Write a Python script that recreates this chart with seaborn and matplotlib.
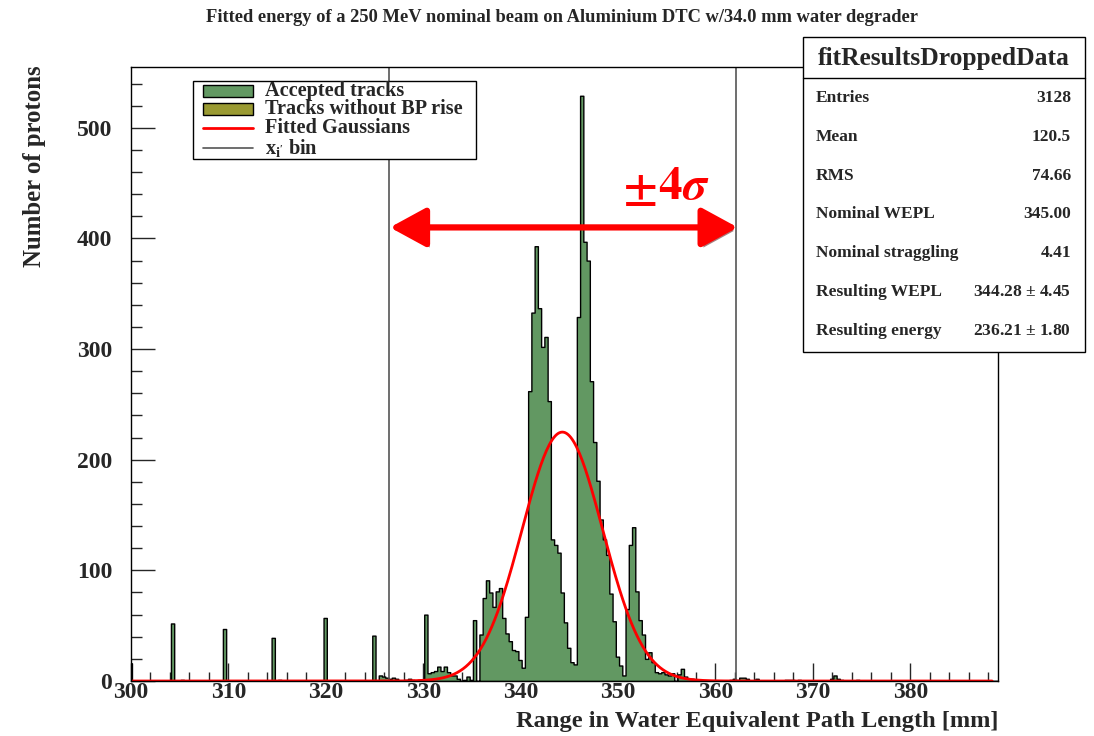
import numpy as np
import pandas as pd
import matplotlib
matplotlib.use("Agg")
import matplotlib.pyplot as plt
import matplotlib.patheffects as pe
from matplotlib.patches import Rectangle
from matplotlib.lines import Line2D
from matplotlib.ticker import MultipleLocator
import seaborn as sns

# ---------------- data ----------------
bin_width = 1 / 3          # mm
first_edge = 300.1 - 1 / 3 # lower edge of the first bin
n_bins = 269

# isolated layer peaks (bin centres in mm, counts)
layer_centres = [299.93, 304.27, 305.27, 309.60, 314.60, 315.27, 319.93, 324.93]
layer_counts = [16, 52, 1, 47, 39, 1, 57, 41]

# contiguous block of bins starting at 325.1 mm
core_first_edge = 325.1
core_counts = [
    0, 5, 4, 3, 2, 3, 2, 0, 0, 1, 2, 1, 0, 1, 1,            # 325.1 - 330.1
    60, 7, 8, 9, 13, 9, 13, 8, 5, 5, 2, 0, 1, 4, 1,        # 330.1 - 335.1
    55, 0, 42, 75, 91, 80, 67, 81, 84, 57, 43, 36, 28, 27, 19,  # 335.1 - 340.1
    12, 58, 262, 333, 393, 337, 302, 311, 253, 128, 123, 116, 80, 53, 30,  # 340.1 - 345.1
    17, 15, 329, 529, 397, 380, 271, 216, 181, 146, 128, 114, 79, 54, 22,  # 345.1 - 350.1
    14, 5, 65, 123, 139, 81, 55, 42, 20, 26, 17, 8, 7, 8, 6,  # 350.1 - 355.1
    5, 7, 0, 6, 11, 4, 2, 2, 0, 1,                          # 355.1 - 358.4
]

# sparse tail above the main distribution
tail_centres = [361.60, 361.93, 362.27, 362.60, 362.93, 363.27, 364.27,
                367.27, 367.60, 367.93, 368.60, 371.93, 372.27, 372.60,
                372.93, 374.60]
tail_counts = [1, 2, 1, 3, 3, 2, 2, 1, 1, 1, 1, 2, 5, 2, 1, 1]

# fit results
fit_amplitude = 225.0
fit_mean = 344.28
fit_sigma = 4.15
result_sigma = 4.45
x_range = (300.0, 389.0)
y_range = (0.0, 555.0)

legend_labels = ["Accepted tracks", "Tracks without BP rise",
                 "Fitted Gaussians", r"x$_{\mathbf{i'}}$ bin"]

stats_title = "fitResultsDroppedData"
stats_names = ["Entries", "Mean", "RMS", "Nominal WEPL", "Nominal straggling",
               "Resulting WEPL", "Resulting energy"]
stats_values = ["3128", "120.5", "74.66", "345.00", "4.41",
                "344.28 $\\pm$ 4.45", "236.21 $\\pm$ 1.80"]

title = ("Fitted energy of a 250 MeV nominal beam on Aluminium DTC "
         "w/34.0 mm water degrader")
x_title = "Range in Water Equivalent Path Length [mm]"
y_title = "Number of protons"

# ---------------- styling ----------------
sns.set_style("ticks")
plt.rcParams["font.family"] = ["Liberation Serif", "DejaVu Serif"]
plt.rcParams["font.weight"] = "bold"
plt.rcParams["mathtext.fontset"] = "custom"
plt.rcParams["mathtext.rm"] = "Liberation Serif:bold"
plt.rcParams["mathtext.bf"] = "Liberation Serif:bold"
plt.rcParams["mathtext.it"] = "Liberation Serif:bold:italic"
plt.rcParams["axes.linewidth"] = 1.0

GREEN = "#629862"
OLIVE = "#9a9a32"
RED = "#ff0000"
LINEGREY = "#555555"

W, H = 1094, 736
fig = plt.figure(figsize=(W / 100, H / 100), dpi=100)


def fx(px):
    return px / W


def fy(py):
    return 1 - py / H


ax = fig.add_axes([fx(131), fy(681), fx(998) - fx(131), fy(67) - fy(681)])

# ---------------- histogram ----------------
core_centres = [core_first_edge + bin_width * (i + 0.5) for i in range(len(core_counts))]
df = pd.DataFrame({
    "wepl": layer_centres + core_centres + tail_centres,
    "count": layer_counts + core_counts + tail_counts,
})
edges = list(first_edge + bin_width * np.arange(n_bins + 1))

sns.histplot(data=df, x="wepl", weights="count", bins=edges, element="step",
             fill=True, color=GREEN, edgecolor="black", linewidth=1.0,
             alpha=1.0, ax=ax, zorder=2)

# fitted gaussian
xs = np.linspace(x_range[0], 388.4, 600)
ys = fit_amplitude * np.exp(-0.5 * ((xs - fit_mean) / fit_sigma) ** 2)
sns.lineplot(x=xs, y=ys, color=RED, linewidth=2.0, ax=ax, zorder=4)

# +-4 sigma bin limits
lo = fit_mean - 4 * result_sigma
hi = fit_mean + 4 * result_sigma
for xv in (lo, hi):
    ax.axvline(xv, color=LINEGREY, linewidth=1.2, zorder=3)

# double arrow with shadow
ann = ax.annotate("", xy=(lo + 0.1, 410), xytext=(hi + 0.2, 410),
                  arrowprops=dict(arrowstyle="<|-|>,head_length=1.1,head_width=0.6",
                                  color=RED, linewidth=4.5, mutation_scale=20,
                                  shrinkA=0, shrinkB=0), zorder=6)
ann.arrow_patch.set_path_effects([pe.SimplePatchShadow(offset=(2, -2.5), alpha=0.5),
                                  pe.Normal()])
ax.text(354.9, 446, r"$\pm4\sigma$", color=RED, fontsize=34,
        ha="center", va="center", zorder=6,
        fontfamily="STIXGeneral", fontweight="normal",
        math_fontfamily="stix")

# ---------------- axes ----------------
ax.set_xlim(*x_range)
ax.set_ylim(*y_range)
ax.set_xlabel("")
ax.set_ylabel("")
ax.xaxis.set_major_locator(MultipleLocator(10))
ax.xaxis.set_minor_locator(MultipleLocator(2))
ax.yaxis.set_major_locator(MultipleLocator(100))
ax.yaxis.set_minor_locator(MultipleLocator(20))
ax.tick_params(axis="x", which="major", direction="in", length=13, width=1,
               pad=1, labelsize=17, top=False)
ax.tick_params(axis="x", which="minor", direction="in", length=6.5, width=1, top=False)
ax.tick_params(axis="y", which="major", direction="in", length=17, width=1,
               pad=13.5, labelsize=17, right=False)
ax.tick_params(axis="y", which="minor", direction="in", length=8, width=1, right=False)
for lab in ax.get_xticklabels() + ax.get_yticklabels():
    lab.set_fontweight("bold")
for s in ax.spines.values():
    s.set_visible(True)
    s.set_color("black")
    s.set_zorder(5)

# ---------------- titles ----------------
fig.text(fx(562), fy(17), title, ha="center", va="center", fontsize=13.3,
         fontweight="bold")
fig.text(fx(998), fy(721), x_title, ha="right", va="center", fontsize=17.6,
         fontweight="bold")
fig.text(fx(35), fy(65), y_title, ha="center", va="top", rotation=90,
         fontsize=17.8, fontweight="bold")

# ---------------- legend box ----------------
fig.add_artist(Rectangle((fx(193), fy(159)), fx(476) - fx(193), fy(81) - fy(159),
                         transform=fig.transFigure, facecolor="white",
                         edgecolor="black", linewidth=1.0, zorder=10))
rows_y = [91, 109, 128, 148]
for i, (lab, y) in enumerate(zip(legend_labels, rows_y)):
    if i < 2:
        fig.add_artist(Rectangle((fx(203), fy(y + 6)), fx(253) - fx(203), fy(y - 6) - fy(y + 6),
                                 transform=fig.transFigure,
                                 facecolor=[GREEN, OLIVE][i], edgecolor="black",
                                 linewidth=1.0, zorder=11))
    else:
        fig.add_artist(Line2D([fx(203), fx(253)], [fy(y), fy(y)],
                              transform=fig.transFigure,
                              color=[RED, LINEGREY][i - 2],
                              linewidth=[2.0, 1.2][i - 2], zorder=11))
    fig.text(fx(265), fy(y), lab, ha="left", va="center", fontsize=14.6,
             fontweight="bold", zorder=12)

# ---------------- statistics box ----------------
fig.add_artist(Rectangle((fx(803), fy(352)), fx(1085) - fx(803), fy(37) - fy(352),
                         transform=fig.transFigure, facecolor="white",
                         edgecolor="black", linewidth=1.0, zorder=10))
fig.add_artist(Line2D([fx(803), fx(1085)], [fy(78), fy(78)],
                      transform=fig.transFigure, color="black",
                      linewidth=1.0, zorder=11))
fig.text(fx(944), fy(58), stats_title, ha="center", va="center", fontsize=18.4,
         fontweight="bold", zorder=12)
for i, (name, val) in enumerate(zip(stats_names, stats_values)):
    y = 98 + i * 38.8
    fig.text(fx(816), fy(y), name, ha="left", va="center", fontsize=12.5,
             fontweight="bold", zorder=12)
    fig.text(fx(1071), fy(y), val, ha="right", va="center", fontsize=12.5,
             fontweight="bold", zorder=12)

fig.savefig("out.png", dpi=100, facecolor="white")
